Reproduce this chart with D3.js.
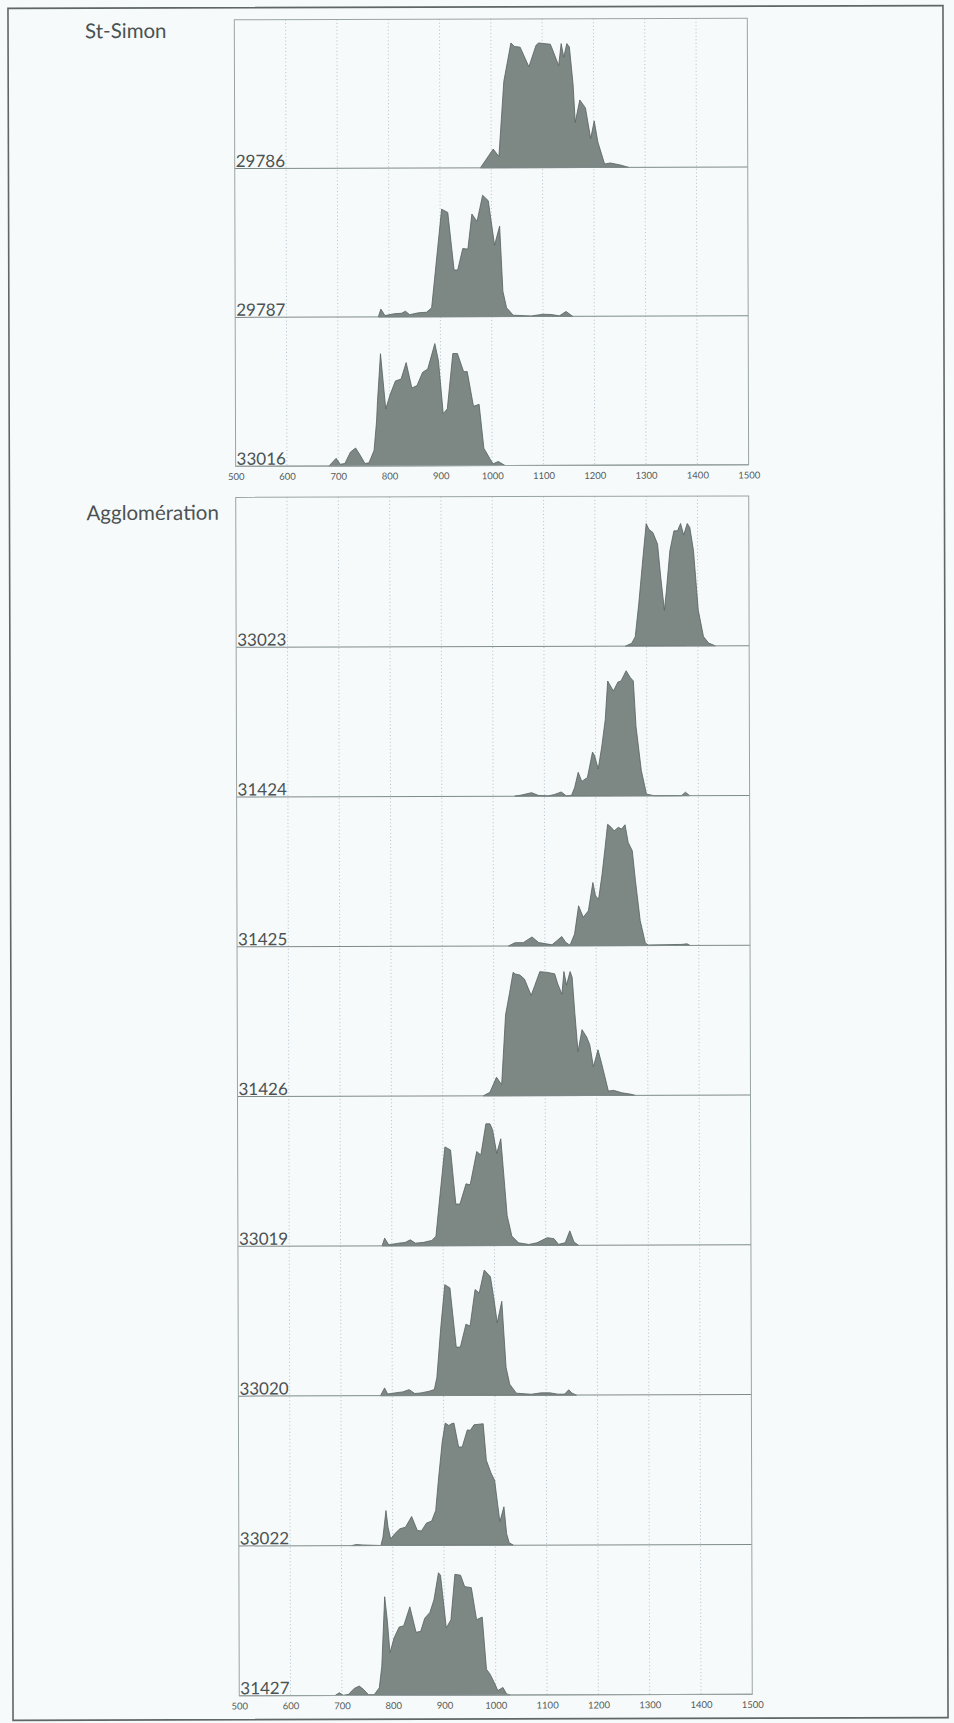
<!DOCTYPE html>
<html>
<head>
<meta charset="utf-8">
<script src="https://cdn.jsdelivr.net/npm/d3@7"></script>
<style>
  body { margin: 0; background: #f7fafa; }
  svg text { font-family: Lato, "Noto Sans", sans-serif; }
</style>
</head>
<body>
<script>
// groups and the sample ids stacked in each one
var groupTitles = ["St-Simon", "Agglomération"];
var stSimonIds = ["29786", "29787", "33016"];
var agglomIds = ["33023", "31424", "31425", "31426", "33019", "33020", "33022", "31427"];

// x axis
var xTicks = [500, 600, 700, 800, 900, 1000, 1100, 1200, 1300, 1400, 1500];
var gridTicks = [600, 700, 800, 900, 1000, 1100, 1200, 1300, 1400];

// profiles: [x value, height in % of the strip]
var s29786 = [[979,0],[1004,12.6],[1015,7.5],[1025,58],[1039,83.8],[1046,81.5],[1057,81],[1074,67.8],[1088,82.2],[1093,83.8],[1116,82.9],[1122,77.6],[1132,68.5],[1137,83.3],[1142,74.2],[1148,83.3],[1153,81],[1160,56],[1164,30.4],[1173,45.4],[1184,40],[1194,19.4],[1201,31.3],[1208,17.1],[1221,2.3],[1232,3],[1252,1.6],[1268,0]];
var s29787 = [[779,0],[784,5.3],[792,0.9],[811,2.2],[824,2.4],[832,3.8],[840,1.5],[857,2.7],[873,3.1],[883,6],[889,25.9],[903,72.3],[915,70.1],[927,31.4],[934,31.4],[944,45.8],[954,45.4],[962,69],[972,64],[983,81.6],[994,77.9],[1006,48],[1016,60.8],[1022,17],[1029,6],[1042,0.9],[1077,0.4],[1100,1.5],[1116,1.3],[1132,0.4],[1145,3.3],[1158,0]];
var s33016 = [[682,0],[696,5.1],[704,1.1],[713,1.6],[724,9.3],[734,12],[743,7.1],[752,1.6],[760,2],[770,10.4],[775,30],[777,43.8],[783,75.3],[793,38.2],[802,48.2],[812,57],[823,58.2],[833,69.3],[844,52.2],[854,53.8],[865,62.7],[875,64.9],[889,82],[896,70.4],[905,34.9],[913,38.2],[924,75.3],[933,75.3],[945,63.1],[952,63.1],[964,39.8],[975,41.1],[984,11.6],[997,3.8],[1002,1.1],[1012,2.7],[1025,0]];
var s33023 = [[1259,0],[1271,1.8],[1278,6.2],[1285,28],[1294,61],[1300,81.7],[1305,78],[1313,75.7],[1322,68],[1328,46],[1335,23.8],[1339,37],[1346,63.6],[1354,76.8],[1361,76.8],[1367,81.7],[1373,74],[1380,81.7],[1385,79],[1392,63.6],[1401,23.8],[1411,6.2],[1421,1.8],[1434,0]];
var s31424 = [[1042,0],[1055,0.7],[1075,2.3],[1088,0.5],[1107,0],[1120,1.1],[1133,2.7],[1143,0],[1153,0.5],[1159,5.6],[1166,15.8],[1173,9.7],[1184,12.4],[1194,29.3],[1198,27],[1205,18],[1212,32.7],[1219,50.8],[1224,76.7],[1235,70],[1244,76],[1250,76.7],[1260,83.5],[1268,79],[1274,76.7],[1279,46.3],[1289,17],[1299,1.1],[1315,0],[1367,0],[1375,2.3],[1383,0]];
var s31425 = [[1029,0],[1042,2.2],[1058,2.2],[1075,6],[1088,2.2],[1114,0.7],[1123,3.3],[1133,6.2],[1141,2.2],[1149,0.4],[1158,7.8],[1166,26.7],[1175,19],[1185,23.3],[1194,42.2],[1199,33.3],[1205,31],[1212,47.8],[1218,65.6],[1223,81],[1227,80],[1236,76.7],[1244,79],[1250,77.8],[1257,80.7],[1263,68.9],[1271,63.3],[1277,43.3],[1286,16.7],[1296,1.6],[1302,0.4],[1367,0.7],[1377,1.1],[1383,0]];
var s31426 = [[979,0],[992,2.3],[1005,12.4],[1015,7.4],[1023,54],[1031,68.8],[1038,82.4],[1042,81.3],[1051,80.6],[1060,77.9],[1073,67],[1080,73.4],[1090,82.8],[1103,82.4],[1119,81.3],[1125,74.5],[1133,67.7],[1137,82.8],[1142,73.8],[1149,82.8],[1153,79],[1158,55.3],[1164,29.3],[1172,44],[1181,39],[1187,33.9],[1194,19.2],[1203,30.5],[1210,21.4],[1223,2.9],[1233,3.4],[1249,1.8],[1268,0.7],[1275,0]];
var s33019 = [[781,0],[786,5.2],[794,0.7],[813,1.8],[826,2.3],[836,4],[846,1.8],[862,2.3],[878,3.6],[886,6.3],[894,33.4],[904,66],[915,63.9],[925,27.8],[933,27.8],[945,41.3],[953,40.6],[966,62.8],[974,60.5],[984,81.3],[992,81.3],[997,77.4],[1005,61.6],[1013,71.3],[1025,19.9],[1034,6.3],[1047,1.8],[1067,0.7],[1083,1.8],[1103,5.2],[1116,4.5],[1125,0.7],[1138,1.8],[1147,9.7],[1155,2.3],[1164,0]];
var s33020 = [[777,0],[785,5.2],[791,1.1],[804,1.8],[820,2.5],[833,4],[844,1.4],[856,1.8],[872,2.9],[882,4],[887,12],[895,45.8],[903,74],[913,71.8],[925,32.3],[933,32.3],[944,47.6],[952,46.3],[962,70.7],[970,68.4],[980,83.7],[992,79.2],[998,66],[1005,48.5],[1014,62.8],[1022,18.7],[1029,7.4],[1042,1.4],[1071,0.7],[1090,1.6],[1107,1.6],[1123,0.7],[1136,0.7],[1144,3.6],[1150,1.4],[1159,0]];
var s33022 = [[720,0],[729,0.7],[742,0.4],[777,0],[781,5.6],[787,23.3],[791,12.2],[796,4.4],[804,7.8],[814,11.1],[825,12.2],[837,19.3],[848,10],[856,9.6],[866,14.9],[876,16.2],[884,23.3],[890,45.6],[897,68.9],[903,81.6],[910,80],[915,81.1],[920,81.6],[929,65.6],[936,65.6],[946,77],[952,76.7],[959,80.4],[977,81.1],[983,56.7],[992,48.2],[999,43.3],[1005,26.7],[1009,15.6],[1017,25.6],[1022,7.8],[1027,1.6],[1035,0]];
var s31427 = [[687,0],[695,1.8],[703,0],[713,0.7],[724,4.6],[734,6.2],[742,4],[752,0.4],[763,0.4],[773,5],[778,19.4],[784,65.8],[789,50],[794,28.3],[802,38.2],[812,45.5],[821,46.4],[833,59],[845,42],[854,42.6],[862,51.4],[872,55.2],[880,63.6],[889,81.7],[893,80],[904,44.8],[913,50.3],[921,80.6],[932,80],[940,72.4],[953,71.7],[963,50.3],[974,52],[982,17.2],[989,13.9],[997,8.4],[1004,2.9],[1014,5],[1021,0.7],[1028,0]];

var seriesById = {
  "29786": s29786, "29787": s29787, "33016": s33016,
  "33023": s33023, "31424": s31424, "31425": s31425, "31426": s31426,
  "33019": s33019, "33020": s33020, "33022": s33022, "31427": s31427
};

var width = 954, height = 1723;

var svg = d3.select("body").append("svg")
    .attr("width", width)
    .attr("height", height);

// the printed page sits a little askew, turn everything slightly
var page = svg.append("g")
    .attr("transform", "rotate(-0.17,477,19)");

// outer frame
page.append("rect")
    .attr("x", 8).attr("y", 7)
    .attr("width", 935).attr("height", 1712)
    .attr("fill", "none")
    .attr("stroke", "#5f6666")
    .attr("stroke-width", 1.6);

var panels = [
  {title: groupTitles[0], ids: stSimonIds, top: 19, bottom: 465.5, titleY: 37},
  {title: groupTitles[1], ids: agglomIds, top: 496.7, bottom: 1695, titleY: 519}
];

var x = d3.scaleLinear().domain([500, 1500]).range([234.3, 747.3]);

panels.forEach(function(p) {
  var g = page.append("g");
  var band = d3.scaleBand().domain(p.ids).range([p.top, p.bottom]);

  // title of the group
  g.append("text")
      .attr("x", 85)
      .attr("y", p.titleY)
      .attr("font-size", 20.5)
      .attr("fill", "#4b5253")
      .text(p.title);

  // dotted vertical grid
  g.selectAll(".grid")
      .data(gridTicks)
    .enter().append("line")
      .attr("class", "grid")
      .attr("x1", function(d) { return x(d); })
      .attr("x2", function(d) { return x(d); })
      .attr("y1", p.top)
      .attr("y2", p.bottom)
      .attr("stroke", "#a9bbc6")
      .attr("stroke-width", 0.9)
      .attr("stroke-dasharray", "1,2.5");

  // one strip per sample
  p.ids.forEach(function(id) {
    var base = band(id) + band.bandwidth();
    var y = d3.scaleLinear().domain([0, 100]).range([base, band(id)]);

    var area = d3.area()
        .x(function(d) { return x(d[0]); })
        .y0(y(0))
        .y1(function(d) { return y(d[1]); });

    g.append("path")
        .datum(seriesById[id])
        .attr("d", area)
        .attr("fill", "#7d8784")
        .attr("stroke", "#566060")
        .attr("stroke-width", 0.8)
        .attr("stroke-linejoin", "round");

    g.append("line")
        .attr("x1", x(500)).attr("x2", x(1500))
        .attr("y1", base).attr("y2", base)
        .attr("stroke", "#7f8a8a")
        .attr("stroke-width", 1);

    g.append("text")
        .attr("x", x(500) + 1)
        .attr("y", base - 1.5)
        .attr("font-size", 17)
        .attr("fill", "#4b5253")
        .text(id);
  });

  // panel border
  g.append("rect")
      .attr("x", x(500)).attr("y", p.top)
      .attr("width", x(1500) - x(500))
      .attr("height", p.bottom - p.top)
      .attr("fill", "none")
      .attr("stroke", "#9aa3a3")
      .attr("stroke-width", 1);

  // x axis labels
  var axis = g.append("g")
      .attr("transform", "translate(0," + p.bottom + ")")
      .call(d3.axisBottom(x).tickValues(xTicks).tickFormat(d3.format("d")).tickSize(0).tickPadding(7));
  axis.select(".domain").remove();
  axis.selectAll("text")
      .attr("font-size", 9.5)
      .attr("font-family", "Lato, 'Noto Sans', sans-serif")
      .attr("fill", "#545b5b");
});
</script>
</body>
</html>
